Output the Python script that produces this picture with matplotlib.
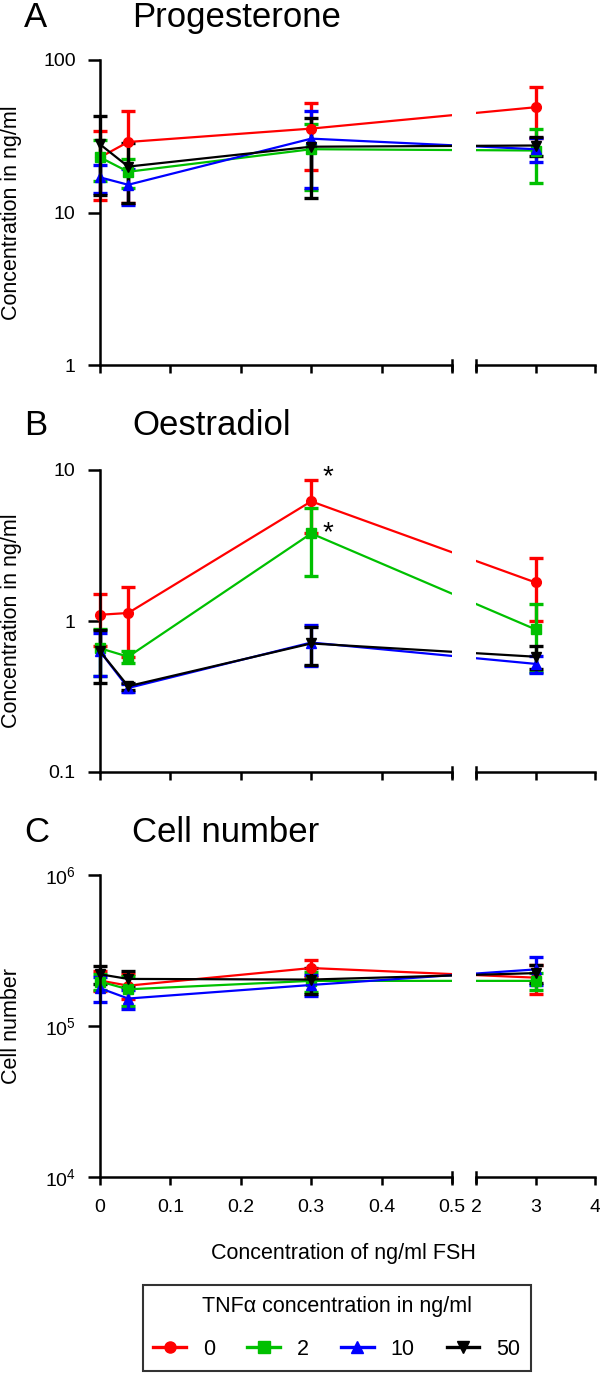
import numpy as np
import matplotlib
matplotlib.use('Agg')
from matplotlib import pyplot as plt
from matplotlib.lines import Line2D
from matplotlib.ticker import FixedLocator, NullLocator

plt.rcParams['font.family'] = ['Liberation Sans', 'DejaVu Sans']
plt.rcParams['mathtext.default'] = 'regular'

# FSH concentration (ng/ml) on the x axis
fsh = [0, 0.04, 0.3, 3]
tnf_labels = ['0', '2', '10', '50']
colors = ['#ff0000', '#00c000', '#0000ff', '#000000']
markers = ['o', 's', '^', 'v']

# rows: TNFa 0, 2, 10, 50 ng/ml
prog_mean = [[23, 29, 35.5, 49],
             [23, 18.5, 26, 25.5],
             [17, 15.2, 30.5, 26],
             [28, 20, 27, 27.5]]
prog_err = [[11, 17.5, 16.5, 18],
            [7, 4, 12, 10],
            [3.5, 4, 16, 4.7],
            [15, 8.5, 14.5, 4]]

oes_mean = [[1.1, 1.13, 6.2, 1.8],
            [0.66, 0.58, 3.8, 0.88],
            [0.63, 0.36, 0.72, 0.52],
            [0.63, 0.37, 0.71, 0.58]]
oes_err = [[0.42, 0.55, 2.4, 0.8],
           [0.23, 0.05, 1.8, 0.42],
           [0.2, 0.02, 0.22, 0.07],
           [0.24, 0.02, 0.2, 0.1]]

cell_mean = [[2.0e5, 1.85e5, 2.42e5, 2.09e5],
             [1.97e5, 1.75e5, 1.99e5, 1.99e5],
             [1.78e5, 1.52e5, 1.87e5, 2.37e5],
             [2.2e5, 2.05e5, 2.03e5, 2.24e5]]
cell_err = [[0.3e5, 0.35e5, 0.3e5, 0.45e5],
            [0.25e5, 0.4e5, 0.3e5, 0.25e5],
            [0.33e5, 0.22e5, 0.3e5, 0.5e5],
            [0.3e5, 0.25e5, 0.4e5, 0.3e5]]

left_ticks = [0, 0.1, 0.2, 0.3, 0.4, 0.5]
right_ticks = [2, 3, 4]

W, H = 600, 1382
LW = 1.8
LABEL_FS = 15.5
TITLE_FS = 25


# segmented x axis: 0..0.5 and 2..4 drawn on one continuous pixel-like scale
def fwd(x):
    x = np.asarray(x, dtype=float)
    return np.where(x <= 0.5, x * 704.0,
                    np.where(x >= 2, 376 + (x - 2) * 59.5, 352 + (x - 0.5) * 16.0))


def inv(u):
    u = np.asarray(u, dtype=float)
    return np.where(u <= 352, u / 704.0,
                    np.where(u >= 376, 2 + (u - 376) / 59.5, 0.5 + (u - 352) / 16.0))


def add_axes_px(fig, x0, y0, x1, y1, **kw):
    return fig.add_axes([x0 / W, 1 - y1 / H, (x1 - x0) / W, (y1 - y0) / H], **kw)


def style_ticks(ax):
    ax.tick_params(axis='x', direction='out', length=6, width=LW,
                   labelsize=14, pad=10, color='k')
    ax.tick_params(axis='y', direction='out', length=8.5, width=LW,
                   labelsize=14, pad=9, color='k')
    ax.xaxis.set_minor_locator(NullLocator())
    ax.yaxis.set_minor_locator(NullLocator())


def panel(fig, top, bottom, means, errs, ylim, yticks, ylabels, ylabel,
          letter, title, title_base, show_xlabels):
    xmin = -0.025
    axl = add_axes_px(fig, 100 + xmin * 704, top, 452, bottom)
    axr = add_axes_px(fig, 476, top, 595, bottom, sharey=axl)
    for ax in (axl, axr):
        ax.set_xscale('function', functions=(fwd, inv))
        ax.set_yscale('log')
        for k in range(4):
            ax.errorbar(fsh, means[k], yerr=errs[k], color=colors[k],
                        marker=markers[k], ms=7, lw=1.6, elinewidth=2.4,
                        capsize=5, capthick=2.4)
        ax.spines['top'].set_visible(False)
        ax.spines['right'].set_visible(False)
        ax.spines['bottom'].set_linewidth(LW)
        style_ticks(ax)
    axl.set_xlim(xmin, 0.5)
    axr.set_xlim(2, 4)
    axl.set_ylim(*ylim)
    axl.spines['left'].set_position(('data', 0))
    axl.spines['left'].set_linewidth(LW)
    axl.spines['bottom'].set_bounds(0, 0.5)
    axr.spines['left'].set_visible(False)
    axr.tick_params(axis='y', left=False, labelleft=False)

    axl.yaxis.set_major_locator(FixedLocator(yticks))
    axl.set_yticklabels(ylabels)
    axl.yaxis.set_minor_locator(NullLocator())
    axl.xaxis.set_major_locator(FixedLocator(left_ticks))
    axr.xaxis.set_major_locator(FixedLocator(right_ticks))
    if show_xlabels:
        axl.set_xticklabels(['0', '0.1', '0.2', '0.3', '0.4', '0.5'])
        axr.set_xticklabels(['2', '3', '4'])
    else:
        axl.set_xticklabels([])
        axr.set_xticklabels([])

    # break caps at the segment ends
    axl.axvline(0.5, ymin=-0.018, ymax=0.018, color='k', lw=LW, clip_on=False)
    axr.axvline(2, ymin=-0.018, ymax=0.018, color='k', lw=LW, clip_on=False)

    fig.text(12 / W, 1 - (top + bottom) / 2 / H, ylabel, rotation=90,
             ha='center', va='center', fontsize=LABEL_FS)
    fig.text(24 / W, 1 - title_base / H, letter, fontsize=TITLE_FS, va='baseline')
    fig.text(132 / W, 1 - title_base / H, title, fontsize=TITLE_FS, va='baseline')
    return axl, axr


fig = plt.figure(figsize=(W / 100, H / 100), dpi=100)

panel(fig, 60, 365, prog_mean, prog_err, (1, 100), [1, 10, 100],
      ['1', '10', '100'], 'Concentration in ng/ml', 'A', 'Progesterone', 27, False)
axb, _ = panel(fig, 470, 772, oes_mean, oes_err, (0.1, 10), [0.1, 1, 10],
               ['0.1', '1', '10'], 'Concentration in ng/ml', 'B', 'Oestradiol', 435, False)
panel(fig, 875, 1177, cell_mean, cell_err, (1e4, 1e6), [1e4, 1e5, 1e6],
      ['$10^{4}$', '$10^{5}$', '$10^{6}$'], 'Cell number', 'C', 'Cell number', 842, True)

# significance marks on the 0.3 ng/ml FSH point
axb.annotate('*', xy=(fsh[2], oes_mean[0][2] + oes_err[0][2]), xytext=(12, 2),
             textcoords='offset points', fontsize=20, ha='center', va='center')
axb.annotate('*', xy=(fsh[2], oes_mean[1][2]), xytext=(12, 0),
             textcoords='offset points', fontsize=20, ha='center', va='center')

fig.text(343 / W, 1 - 1253 / H, 'Concentration of ng/ml FSH', ha='center',
         va='center', fontsize=LABEL_FS)

handles = [Line2D([], [], color=colors[k], marker=markers[k], lw=2.4, ms=8)
           for k in range(4)]
leg = fig.legend(handles, tnf_labels, title='TNFα concentration in ng/ml',
                 ncol=4, loc='upper center', bbox_to_anchor=(337 / W, 1 - 1285 / H),
                 borderaxespad=0, fontsize=LABEL_FS, title_fontsize=LABEL_FS,
                 fancybox=False, edgecolor='k', handlelength=1.5,
                 columnspacing=1.5, handletextpad=0.8, borderpad=0.5,
                 labelspacing=0.8)
leg.get_frame().set_linewidth(1.5)
leg._legend_box.sep = 16

fig.savefig('out.png', dpi=100)
